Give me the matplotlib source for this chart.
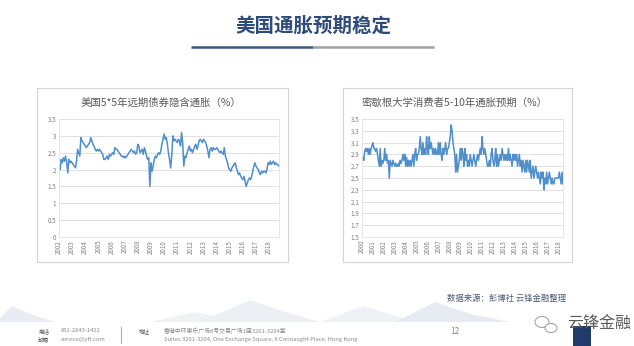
import numpy as np
import matplotlib
matplotlib.use("Agg")
import matplotlib.pyplot as plt
from matplotlib.patches import Rectangle, Polygon, Ellipse

plt.rcParams['font.family'] = ['Noto Sans CJK SC', 'DejaVu Sans']

# 美国5*5年远期债券隐含通胀, monthly from Jan 2002
fwd_2002 = [2.10, 2.00, 2.30, 2.20, 2.35, 2.25, 2.40, 2.20, 1.90, 2.30, 2.20, 2.25]
fwd_2003 = [2.20, 2.15, 2.10, 2.05, 2.25, 2.60, 2.50, 2.40, 2.95, 2.85, 2.80, 2.75]
fwd_2004 = [2.70, 2.65, 2.70, 2.75, 2.80, 2.95, 2.85, 2.75, 2.70, 2.60, 2.55, 2.60]
fwd_2005 = [2.55, 2.60, 2.55, 2.50, 2.45, 2.30, 2.30, 2.35, 2.40, 2.30, 2.45, 2.40]
fwd_2006 = [2.45, 2.50, 2.45, 2.65, 2.60, 2.60, 2.55, 2.50, 2.45, 2.40, 2.40, 2.35]
fwd_2007 = [2.40, 2.35, 2.40, 2.45, 2.50, 2.55, 2.60, 2.55, 2.50, 2.55, 2.45, 2.50]
fwd_2008 = [2.75, 2.70, 2.50, 2.55, 2.60, 2.45, 2.65, 2.55, 2.40, 2.30, 2.35, 1.50]
fwd_2009 = [2.20, 1.95, 2.10, 2.30, 2.40, 2.35, 2.45, 2.50, 2.45, 2.55, 2.75, 2.90]
fwd_2010 = [3.05, 2.90, 2.95, 2.75, 2.50, 2.30, 2.05, 2.40, 3.00, 2.85, 2.90, 2.85]
fwd_2011 = [2.80, 2.90, 2.85, 2.70, 3.10, 2.80, 2.10, 2.40, 2.35, 2.50, 2.60, 2.70]
fwd_2012 = [2.55, 2.60, 2.50, 2.60, 2.70, 2.75, 2.60, 2.70, 2.85, 2.90, 2.85, 2.80]
fwd_2013 = [2.90, 2.85, 2.80, 2.70, 2.55, 2.35, 2.60, 2.65, 2.55, 2.65, 2.60, 2.60]
fwd_2014 = [2.65, 2.60, 2.55, 2.50, 2.55, 2.50, 2.45, 2.65, 2.40, 2.30, 2.20, 2.05]
fwd_2015 = [2.00, 1.95, 2.05, 2.10, 2.15, 2.20, 2.05, 1.95, 1.85, 1.90, 1.80, 1.75]
fwd_2016 = [1.70, 1.80, 1.65, 1.50, 1.60, 1.70, 1.75, 1.70, 1.80, 1.95, 2.10, 2.20]
fwd_2017 = [2.10, 2.05, 2.00, 1.90, 1.85, 1.95, 1.90, 1.95, 1.95, 1.90, 2.00, 2.20]
fwd_2018 = [2.15, 2.25, 2.15, 2.20, 2.25, 2.15, 2.20, 2.15, 2.15, 2.10]

# 密歇根大学消费者5-10年通胀预期, monthly from Jan 2000
mich_2000 = [2.8, 2.85, 2.8, 2.95, 3.0, 2.95, 3.0, 2.9, 3.0, 2.9, 3.0, 3.05]
mich_2001 = [3.1, 3.0, 3.0, 2.95, 3.0, 2.9, 2.8, 2.7, 3.0, 2.7, 2.8, 2.75]
mich_2002 = [2.8, 3.0, 2.8, 2.9, 2.75, 2.8, 2.5, 2.8, 2.75, 2.7, 2.8, 2.75]
mich_2003 = [2.7, 2.75, 2.7, 2.7, 2.75, 2.7, 2.8, 2.75, 2.8, 2.9, 2.8, 2.9]
mich_2004 = [2.7, 2.85, 2.7, 2.8, 2.7, 2.8, 2.7, 2.8, 2.9, 2.7, 2.9, 3.0]
mich_2005 = [2.8, 2.9, 2.9, 3.0, 3.2, 3.0, 2.9, 3.1, 2.9, 3.0, 2.9, 3.2]
mich_2006 = [3.0, 2.9, 3.2, 3.0, 3.1, 3.0, 2.9, 3.0, 2.9, 3.0, 2.9, 2.9]
mich_2007 = [3.1, 2.9, 3.1, 2.9, 2.8, 3.0, 2.9, 3.0, 3.1, 2.9, 3.0, 3.0]
mich_2008 = [3.1, 3.2, 3.4, 3.3, 3.1, 3.0, 2.9, 2.6, 2.9, 2.6, 2.7, 2.8]
mich_2009 = [3.0, 2.8, 3.0, 2.9, 2.7, 3.0, 2.8, 2.9, 2.7, 2.8, 2.7, 2.9]
mich_2010 = [2.8, 2.7, 2.8, 2.9, 2.8, 2.7, 2.8, 2.9, 2.8, 2.9, 3.0, 2.9]
mich_2011 = [3.2, 3.0, 2.9, 3.0, 2.9, 2.8, 2.7, 2.7, 2.8, 2.7, 2.9, 3.0]
mich_2012 = [2.8, 2.7, 2.8, 3.0, 2.7, 2.9, 2.7, 2.8, 2.9, 2.8, 3.0, 2.9]
mich_2013 = [2.8, 2.9, 2.8, 2.9, 2.8, 3.0, 2.8, 2.9, 2.8, 2.7, 2.9, 2.8]
mich_2014 = [2.9, 2.8, 2.9, 2.7, 2.8, 2.9, 2.7, 2.8, 2.6, 2.8, 2.7, 2.6]
mich_2015 = [2.8, 2.6, 2.8, 2.7, 2.6, 2.8, 2.5, 2.6, 2.7, 2.5, 2.6, 2.7]
mich_2016 = [2.6, 2.5, 2.6, 2.5, 2.4, 2.6, 2.5, 2.6, 2.3, 2.5, 2.4, 2.6]
mich_2017 = [2.4, 2.5, 2.6, 2.5, 2.4, 2.5, 2.4, 2.4, 2.5, 2.5, 2.5, 2.5]
mich_2018 = [2.5, 2.6, 2.5, 2.4, 2.6, 2.4]

fwd = (fwd_2002 + fwd_2003 + fwd_2004 + fwd_2005 + fwd_2006 + fwd_2007 + fwd_2008
       + fwd_2009 + fwd_2010 + fwd_2011 + fwd_2012 + fwd_2013 + fwd_2014 + fwd_2015
       + fwd_2016 + fwd_2017 + fwd_2018)
mich = (mich_2000 + mich_2001 + mich_2002 + mich_2003 + mich_2004 + mich_2005 + mich_2006
        + mich_2007 + mich_2008 + mich_2009 + mich_2010 + mich_2011 + mich_2012 + mich_2013
        + mich_2014 + mich_2015 + mich_2016 + mich_2017 + mich_2018)

left_years = list(range(2002, 2019))
right_years = list(range(2000, 2019))
left_yticks = [0, 0.5, 1, 1.5, 2, 2.5, 3, 3.5]
right_yticks = [1.5, 1.7, 1.9, 2.1, 2.3, 2.5, 2.7, 2.9, 3.1, 3.3, 3.5]

line_color = '#4f8fcc'
grid_color = '#dcdcdc'
tick_color = '#808080'

W, H = 634, 346
fig = plt.figure(figsize=(W / 100, H / 100), dpi=100)
fig.patch.set_facecolor('white')


def px_rect(x0, y0, x1, y1):
    # pixel box (top-left origin) -> figure fraction [left, bottom, width, height]
    return [x0 / W, 1 - y1 / H, (x1 - x0) / W, (y1 - y0) / H]


# background layer in pixel coords: faint mountains, frames, rules
bg = fig.add_axes([0, 0, 1, 1], zorder=-5)
bg.set_xlim(0, W)
bg.set_ylim(H, 0)
bg.axis('off')
for pts, c in [
    ([(0, 318), (12, 306), (30, 314), (55, 322), (0, 322)], '#e8ecf2'),
    ([(150, 322), (195, 312), (225, 318), (240, 322)], '#f0f2f6'),
    ([(200, 322), (250, 300), (285, 312), (320, 322)], '#eceff4'),
    ([(320, 322), (364, 306), (395, 316), (420, 322)], '#eef1f5'),
    ([(395, 322), (435, 302), (470, 314), (510, 322)], '#e6ebf2'),
]:
    bg.add_patch(Polygon(pts, closed=True, facecolor=c, edgecolor='none'))

for x0, y0, x1, y1 in [(37, 88, 288, 262), (343, 88, 572, 262)]:
    bg.add_patch(Rectangle((x0, y0), x1 - x0, y1 - y0, facecolor='white',
                           edgecolor='#d4d4d4', linewidth=0.8))

# slide title and underline
fig.text(313 / W, 1 - 26 / H, '美国通胀预期稳定', ha='center', va='center',
         fontsize=14, fontweight='bold', color='#2e4a78')
bg.plot([191, 313], [47, 47], color='#3a5683', linewidth=1.8, solid_capstyle='butt')
bg.plot([313, 434], [47, 47], color='#a0a0a0', linewidth=1.8, solid_capstyle='butt')


def draw_panel(rect, values, start_year, years, yticks, ylim, title, title_x):
    ax = fig.add_axes(rect)
    x = start_year + np.arange(len(values)) / 12
    ax.plot(x, values, color=line_color, linewidth=1.1)
    ax.set_xlim(start_year, x[-1])
    ax.set_ylim(*ylim)
    ax.set_yticks(yticks)
    ax.set_yticklabels([('%g' % v) for v in yticks])
    ax.set_xticks(years)
    ax.set_xticklabels([str(y) for y in years], rotation=90)
    ax.tick_params(axis='both', length=0, labelsize=4.5, labelcolor=tick_color, pad=2)
    ax.grid(axis='y', color=grid_color, linewidth=0.6)
    ax.set_axisbelow(True)
    for s in ax.spines.values():
        s.set_color('#e2e2e2')
        s.set_linewidth(0.6)
    fig.text(title_x / W, 1 - 103 / H, title, ha='center', va='center',
             fontsize=7.5, color='#595959')
    return ax


draw_panel(px_rect(59, 119, 279, 237), fwd, 2002, left_years, left_yticks, (0, 3.5),
           '美国5*5年远期债券隐含通胀（%）', 161)
draw_panel(px_rect(362, 119, 563, 237), mich, 2000, right_years, right_yticks, (1.5, 3.5),
           '密歇根大学消费者5-10年通胀预期（%）', 455)

# source note
fig.text(566 / W, 1 - 298 / H, '数据来源：彭博社 云锋金融整理', ha='right', va='center',
         fontsize=6, style='italic', color='#4a5a78')

# footer
foot = '#8a8a8a'
fig.text(38 / W, 1 - 331 / H, '电话', fontsize=4, color='#555555', va='center')
fig.text(38 / W, 1 - 339 / H, '邮箱', fontsize=4, color='#555555', va='center')
fig.text(61 / W, 1 - 331 / H, '852-2843-1422', fontsize=4.2, color=foot, va='center')
fig.text(61 / W, 1 - 339 / H, 'service@yft.com', fontsize=4.2, color=foot, va='center')
bg.plot([121, 121], [327, 343], color='#b0b0b0', linewidth=0.8)
fig.text(139 / W, 1 - 331 / H, '地址', fontsize=4, color='#555555', va='center')
fig.text(164 / W, 1 - 331 / H, '香港中环康乐广场8号交易广场1座3201-3204室', fontsize=4.2,
         color=foot, va='center')
fig.text(164 / W, 1 - 339 / H,
         'Suites 3201-3204, One Exchange Square, 8 Connaught Place, Hong Kong',
         fontsize=4.2, color=foot, va='center')
fig.text(455 / W, 1 - 331 / H, '12', fontsize=6, color=foot, ha='center', va='center')

# logo: wechat bubbles, dark square, name
bg.add_patch(Ellipse((542, 322), 14, 11, facecolor='none', edgecolor='#9a9a9a', linewidth=0.7))
bg.add_patch(Ellipse((551, 328), 12, 9, facecolor='white', edgecolor='#9a9a9a', linewidth=0.7))
bg.add_patch(Rectangle((573, 326), 18, 20, facecolor='#1f3a6b', edgecolor='none'))
fig.text(599 / W, 1 - 323 / H, '云锋金融', fontsize=11.5, color='#5a5a5a',
         ha='center', va='center', zorder=5)

fig.savefig('out.png', dpi=100)
